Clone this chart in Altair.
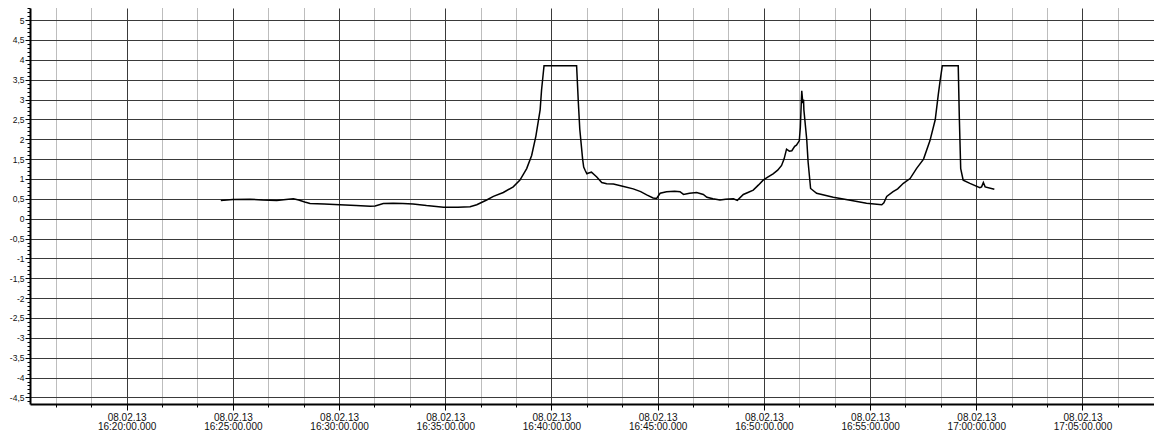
import altair as alt
import pandas as pd

DATE_LABEL = "08.02.13"

times = [
    "16:24:26", "16:25:00", "16:25:48", "16:26:24", "16:27:04", "16:27:30", "16:27:51", "16:28:06",
    "16:28:23", "16:28:38", "16:29:18", "16:30:02", "16:30:48", "16:31:28", "16:31:42", "16:32:05",
    "16:32:33", "16:33:00", "16:33:29", "16:34:07", "16:34:55", "16:35:36", "16:36:10", "16:36:29",
    "16:36:57", "16:37:16", "16:37:44", "16:38:12", "16:38:31", "16:38:50", "16:39:04", "16:39:16",
    "16:39:28", "16:39:32", "16:39:39", "16:41:11", "16:41:16", "16:41:20", "16:41:28", "16:41:31",
    "16:41:35", "16:41:40", "16:41:45", "16:41:53", "16:42:08", "16:42:22", "16:42:36", "16:42:55",
    "16:43:24", "16:43:51", "16:44:12", "16:44:29", "16:44:47", "16:44:57", "16:45:07", "16:45:25",
    "16:45:48", "16:46:03", "16:46:13", "16:46:30", "16:46:50", "16:47:09", "16:47:19", "16:47:36",
    "16:47:56", "16:48:12", "16:48:34", "16:48:45", "16:49:02", "16:49:15", "16:49:30", "16:49:45",
    "16:49:58", "16:50:12", "16:50:26", "16:50:39", "16:50:50", "16:50:57", "16:51:04", "16:51:12",
    "16:51:19", "16:51:27", "16:51:32", "16:51:40", "16:51:43", "16:51:47", "16:51:50", "16:51:52",
    "16:51:53", "16:52:01", "16:52:05", "16:52:12", "16:52:29", "16:53:16", "16:54:00", "16:54:50",
    "16:55:33", "16:55:39", "16:55:47", "16:56:05", "16:56:18", "16:56:34", "16:56:53", "16:57:11",
    "16:57:31", "16:57:49", "16:58:04", "16:58:13", "16:58:18", "16:58:24", "16:59:09", "16:59:12",
    "16:59:16", "16:59:23", "16:59:42", "17:00:10", "17:00:15", "17:00:20", "17:00:25", "17:00:51",
]

values = [
    0.46, 0.48, 0.49, 0.47, 0.46, 0.48, 0.50, 0.47,
    0.42, 0.38, 0.37, 0.35, 0.33, 0.31, 0.32, 0.38,
    0.39, 0.38, 0.37, 0.33, 0.29, 0.29, 0.30, 0.35,
    0.47, 0.56, 0.66, 0.80, 0.97, 1.26, 1.59, 2.08,
    2.74, 3.24, 3.85, 3.85, 2.91, 2.25, 1.50, 1.30,
    1.22, 1.13, 1.15, 1.17, 1.05, 0.91, 0.88, 0.87,
    0.81, 0.75, 0.68, 0.60, 0.52, 0.51, 0.64, 0.68,
    0.69, 0.68, 0.61, 0.64, 0.66, 0.61, 0.54, 0.50,
    0.47, 0.49, 0.50, 0.46, 0.61, 0.66, 0.72, 0.85,
    0.97, 1.05, 1.13, 1.22, 1.34, 1.50, 1.75, 1.70,
    1.71, 1.82, 1.85, 1.96, 2.30, 3.22, 2.91, 3.00,
    2.74, 2.00, 1.42, 0.76, 0.64, 0.54, 0.47, 0.39,
    0.35, 0.40, 0.56, 0.68, 0.75, 0.89, 1.01, 1.26,
    1.50, 1.96, 2.49, 3.15, 3.48, 3.85, 3.85, 2.58,
    1.26, 0.97, 0.89, 0.78, 0.80, 0.91, 0.80, 0.74,
]

# axis tick positions (seconds since midnight / value units)
x_tick_values = list(range(58600, 61601, 100))
y_tick_values = [round(-4.6 + 0.1 * i, 1) for i in range(100)]

X_MIN, X_MAX = 58527, 61702
Y_MIN, Y_MAX = -4.666, 5.304

df = pd.DataFrame({"time": times, "value": values})
df["t"] = pd.to_timedelta(df["time"]).dt.total_seconds()

FONT_X = "Liberation Sans Narrow, Arial Narrow, Liberation Sans, Arial, sans-serif"
FONT_Y = "Liberation Sans, Arial, sans-serif"

major_x = "datum.value % 300 === 0"
major_y = "abs(datum.value * 2 - round(datum.value * 2)) < 0.001"

x_label_expr = (
    f"{major_x} ? ['{DATE_LABEL}', "
    "format(floor(datum.value / 3600), '02d') + ':' + "
    "format(floor((datum.value % 3600) / 60), '02d') + ':' + "
    "format(datum.value % 60, '02d') + '.000'] : ''"
)

x_axis = alt.Axis(
    values=x_tick_values,
    title=None,
    grid=True,
    gridColor={"condition": {"test": major_x, "value": "#3a3a3a"}, "value": "#7a7a7a"},
    gridDash={"condition": {"test": major_x, "value": []}, "value": [1, 1]},
    gridWidth=1,
    domainColor="black",
    domainWidth=2,
    tickColor="black",
    tickWidth=1,
    tickSize={"condition": {"test": major_x, "value": 6}, "value": 3},
    labelExpr=x_label_expr,
    labelFont=FONT_X,
    labelFontSize=10,
    labelColor="#111111",
    labelLineHeight=9.5,
    labelPadding=2,
    labelOverlap=False,
    labelFlush=False,
    labelBaseline="top",
)

y_axis = alt.Axis(
    values=y_tick_values,
    title=None,
    grid=True,
    gridColor="#3a3a3a",
    gridOpacity={"condition": {"test": major_y, "value": 1}, "value": 0},
    gridWidth=1,
    domainColor="black",
    domainWidth=2,
    tickColor="black",
    tickWidth=1,
    tickSize={"condition": {"test": major_y, "value": 5}, "value": 3},
    labelExpr=f"{major_y} ? replace(toString(datum.value), '.', ',') : ''",
    labelFont=FONT_Y,
    labelFontSize=8.5,
    labelColor="#111111",
    labelPadding=1,
    labelOverlap=False,
    labelFlush=False,
)

chart = (
    alt.Chart(df)
    .mark_line(color="black", strokeWidth=1.5)
    .encode(
        x=alt.X("t:Q", scale=alt.Scale(domain=[X_MIN, X_MAX], nice=False, zero=False), axis=x_axis),
        y=alt.Y("value:Q", scale=alt.Scale(domain=[Y_MIN, Y_MAX], nice=False, zero=False), axis=y_axis),
    )
    .properties(
        width=1124,
        height=396,
        autosize=alt.AutoSizeParams(type="none"),
        padding={"left": 22, "top": 0, "right": 0, "bottom": 28},
        background="white",
    )
    .configure_view(stroke=None)
)

chart.save("out.html", embed_options={"renderer": "svg", "actions": False})
